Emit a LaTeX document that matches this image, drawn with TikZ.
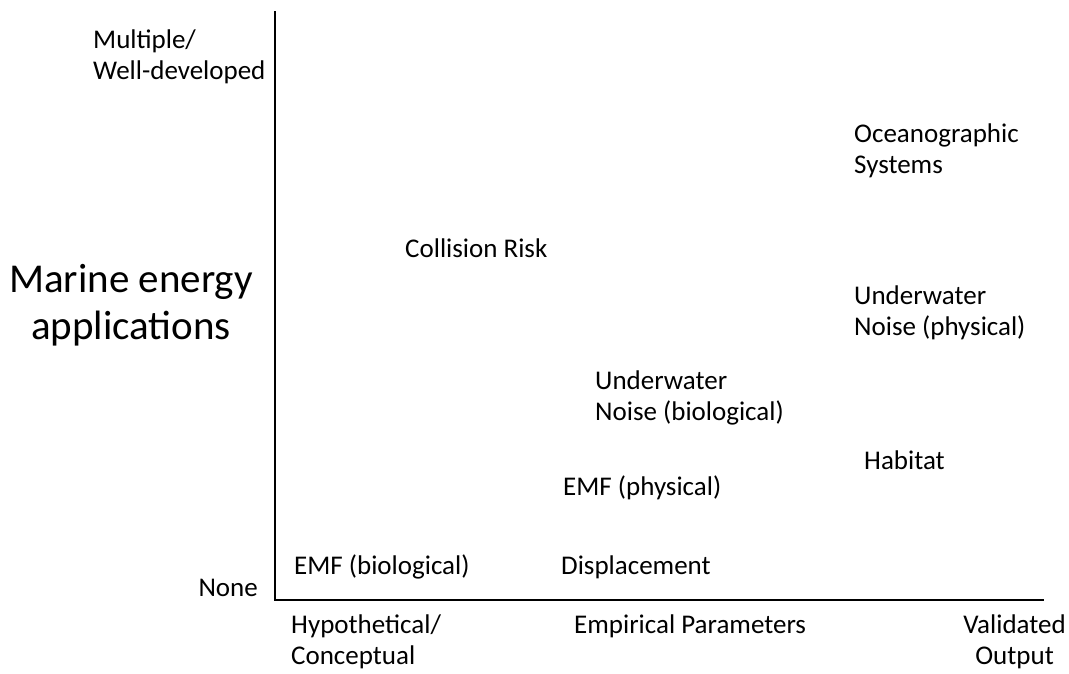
\documentclass[tikz,border=0pt]{standalone}
\usepackage{fontspec}
\setmainfont{Carlito}
\usepackage{tikz}

\tikzset{
  lbl/.style={anchor=west, align=left, inner sep=0pt, font=\fontsize{27}{31}\selectfont},
  big/.style={align=center, inner sep=0pt, font=\fontsize{41}{47}\selectfont},
  axis/.style={line width=2pt}
}

\begin{document}
\begin{tikzpicture}[x=1pt, y=-1pt]
            \useasboundingbox (0,0) rectangle (1069,673);
            % axes
            \coordinate (ytop) at (274.5,11);
            \coordinate (origin) at (274.5,599.5);
            \coordinate (xend) at (1044,599.5);
            \draw[axis] (ytop) -- (origin) -- (xend);
            % axis labels
            \node[lbl] (multi) at (93,57) {Multiple/\\Well-developed};
            \node[lbl, anchor=east] (none) at (258,588) {None};
            \node[big] (marine) at (131,305) {Marine energy\\applications};
            \node[lbl] (hypo) at (291,642) {Hypothetical/\\Conceptual};
            \node[lbl] (empir) at (574,626) {Empirical Parameters};
            \node[lbl, anchor=east, align=center] (valid) at (1066,642) {Validated\\Output};
            % topics
            \node[lbl] (ocean) at (854,151) {Oceanographic\\Systems};
            \node[lbl] (collision) at (405,248) {Collision Risk};
            \node[lbl] (noisephys) at (854,313) {Underwater\\Noise (physical)};
            \node[lbl] (noisebio) at (595,397.5) {Underwater\\Noise (biological)};
            \node[lbl] (habitat) at (864,460) {Habitat};
            \node[lbl] (emfphys) at (563,488) {EMF (physical)};
            \node[lbl] (emfbio) at (294,567) {EMF (biological)};
            \node[lbl] (displace) at (561,567) {Displacement};
        \end{tikzpicture}
\end{document}
